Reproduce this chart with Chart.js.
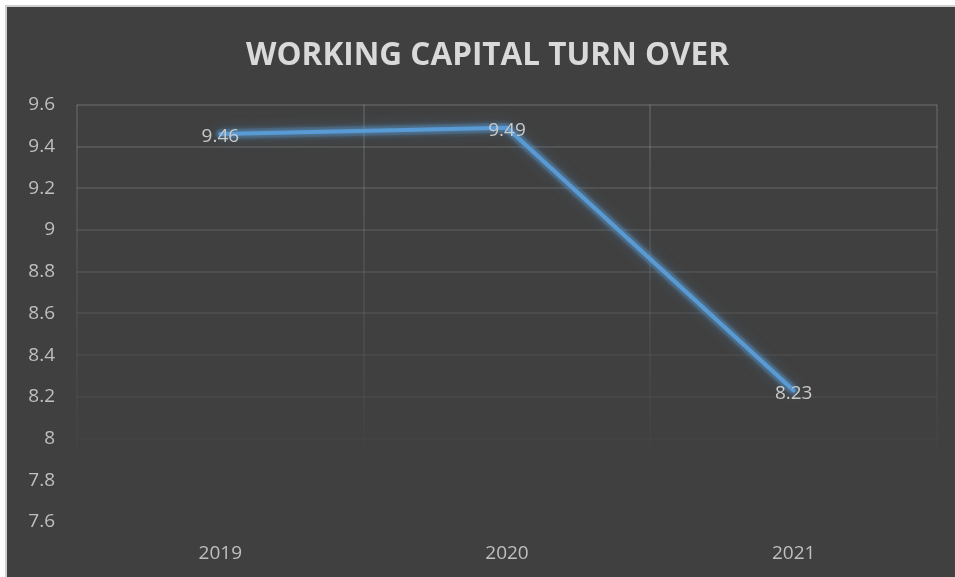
<!DOCTYPE html>
<html>
<head>
<meta charset="utf-8">
<script src="https://cdn.jsdelivr.net/npm/chart.js@4.4.1/dist/chart.umd.min.js"></script>
<style>
  html, body { margin: 0; padding: 0; background: #ffffff; }
  #wrap {
    position: absolute; left: 5px; top: 5px;
    width: 950px; height: 572px;
    border-left: 2px solid #d0d0d0; border-top: 2px solid #d0d0d0;
    background: #404040;
  }
  canvas { display: block; }
</style>
</head>
<body>
<div id="wrap"><canvas id="wcChart" width="948" height="570"></canvas></div>
<script>
const years = ['2019', '2020', '2021'];
const turnover = [9.46, 9.49, 8.23];
const yTicks = [7.6, 7.8, 8, 8.2, 8.4, 8.6, 8.8, 9, 9.2, 9.4, 9.6];

const labelColor = '#bfbfbf';
const lineColor = '#5b9bd5';

// soft glow under the line, like the Excel preset
const glowPlugin = {
  id: 'glow',
  beforeDatasetDraw(chart, args) {
    const ctx = chart.ctx;
    ctx.save();
    ctx.shadowColor = 'rgba(91,155,213,1)';
    ctx.shadowBlur = args.index === 0 ? 14 : 6;
  },
  afterDatasetDraw(chart) {
    chart.ctx.restore();
  }
};

// value labels centred on each point
const valueLabels = {
  id: 'valueLabels',
  afterDatasetsDraw(chart) {
    const ctx = chart.ctx;
    const meta = chart.getDatasetMeta(1);
    ctx.save();
    ctx.font = '19px "Open Sans"';
    ctx.fillStyle = '#c9c9c9';
    ctx.textAlign = 'center';
    ctx.textBaseline = 'middle';
    meta.data.forEach((pt, i) => {
      ctx.fillText(turnover[i].toFixed(2), pt.x, pt.y + 3);
    });
    ctx.restore();
  }
};

function yGridColor(c) {
  const v = c.tick ? c.tick.value : 0;
  if (v < 7.9) return 'rgba(0,0,0,0)';
  const a = 0.02 + (v - 8) / 1.6 * 0.1;
  return `rgba(255,255,255,${a.toFixed(3)})`;
}

function xGridColor(c) {
  const area = c.chart.chartArea;
  if (!area) return 'rgba(255,255,255,0.1)';
  const g = c.chart.ctx.createLinearGradient(0, area.top, 0, area.top + 365);
  g.addColorStop(0, 'rgba(255,255,255,0.12)');
  g.addColorStop(0.8, 'rgba(255,255,255,0.03)');
  g.addColorStop(1, 'rgba(255,255,255,0)');
  return g;
}

new Chart(document.getElementById('wcChart'), {
  type: 'line',
  data: {
    labels: years,
    datasets: [{
      // translucent band drawn under the line for the glow
      data: turnover,
      borderColor: 'rgba(91,155,213,0.18)',
      borderWidth: 10,
      pointRadius: 0,
      tension: 0,
      borderCapStyle: 'round',
      borderJoinStyle: 'round'
    }, {
      data: turnover,
      borderColor: lineColor,
      borderWidth: 4,
      pointRadius: 0,
      tension: 0,
      borderCapStyle: 'round'
    }]
  },
  options: {
    responsive: false,
    animation: false,
    layout: { padding: { left: 13, right: 0, top: 0, bottom: 0 } },
    plugins: {
      legend: { display: false },
      tooltip: { enabled: false },
      title: {
        display: true,
        text: 'WORKING CAPITAL TURN OVER',
        color: '#d9d9d9',
        font: { family: '"Open Sans"', size: 31.5, weight: 'bold', lineHeight: 1.2 },
        padding: { top: 30, bottom: 30 }
      }
    },
    scales: {
      x: {
        offset: true,
        grid: { offset: true, color: xGridColor, lineWidth: 2, drawTicks: false },
        border: { display: false },
        ticks: { color: labelColor, font: { family: '"Open Sans"', size: 19 }, padding: 20 },
        afterFit(scale) { scale.height = 55; }
      },
      y: {
        min: 7.6,
        max: 9.6,
        afterBuildTicks(scale) { scale.ticks = yTicks.map(v => ({ value: v })); },
        grid: { color: yGridColor, lineWidth: 2, drawTicks: false },
        border: { display: false },
        ticks: {
          color: labelColor,
          font: { family: '"Open Sans"', size: 19 },
          padding: 22,
          callback: v => String(+v.toFixed(1))
        },
        afterFit(scale) { scale.width = 57; }
      },
      // empty right axis just to leave the right margin
      yRight: {
        position: 'right',
        min: 7.6,
        max: 9.6,
        grid: { display: false },
        border: { display: false },
        ticks: { display: false },
        afterFit(scale) { scale.width = 18; }
      }
    }
  },
  plugins: [glowPlugin, valueLabels]
});
</script>
</body>
</html>
